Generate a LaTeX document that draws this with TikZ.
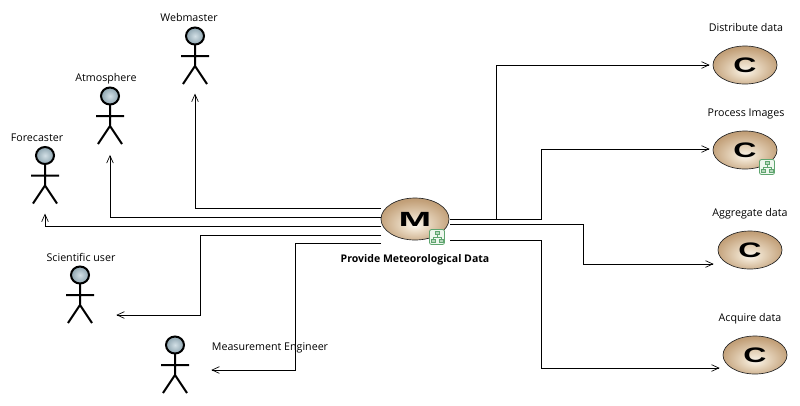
\documentclass[tikz,border=0pt]{standalone}
\usepackage{fontspec}
\setmainfont{Open Sans}
\newfontfamily\lettfont{Liberation Sans}
\usetikzlibrary{arrows.meta,shapes.geometric,calc}
\definecolor{headin}{HTML}{D3E0E6}
\definecolor{headout}{HTML}{8CA3AE}
\definecolor{treeline}{HTML}{5FA56F}
\definecolor{treefill}{HTML}{EEF7EE}
\definecolor{ovalA}{HTML}{FBF6EE}
\definecolor{ovalB}{HTML}{EBDCC6}
\definecolor{ovalC}{HTML}{C3A17A}
\definecolor{ovalD}{HTML}{9C754A}
\pgfdeclareradialshading{ovalshade}{\pgfpoint{0bp}{-8bp}}{
  color(0bp)=(ovalA);
  color(8bp)=(ovalB);
  color(26bp)=(ovalC);
  color(50bp)=(ovalD)}
\tikzset{
  x=0.75pt,y=-0.75pt,
  conn/.style={draw=black,line width=0.6pt,-{Straight Barb[length=5.5pt,width=5pt,line width=0.5pt]}},
  lab/.style={font=\fontsize{8pt}{9pt}\selectfont,text=black,inner sep=0pt},
  boldlab/.style={lab,font=\fontsize{7.9pt}{9pt}\selectfont\bfseries},
  classnode/.style={ellipse,draw=black!85,line width=0.5pt,inner sep=0pt,
    minimum width=48pt,minimum height=28.5pt,shading=ovalshade,
    font=\lettfont\bfseries},
  actorbox/.style={inner sep=0pt,minimum width=30pt,minimum height=48pt},
  actor/.pic={
    \draw[line width=1.5pt,inner color=headin,outer color=headout] (0,0) ellipse[x radius=9,y radius=8.5];
    \draw[line width=1.5pt] (0,9)--(0,30) (-14,20)--(14,20) (-12,48)--(0,30)--(12,48);
  },
  tree/.pic={
    \draw[treeline,fill=treefill,line width=0.6pt,rounded corners=1.5pt] (-7.5,-7.5) rectangle (7.5,7.5);
    \draw[treeline,fill=treefill!60!treeline,line width=0.35pt] (-2,-5.5) rectangle (2,-2.5) (-6,2) rectangle (-2,5.5) (2,2) rectangle (6,5.5);
    \draw[treeline,line width=0.4pt] (0,-2.5)--(0,0) (-4,2)--(-4,0)--(4,0)--(4,2);
  },
}
\begin{document}
\begin{tikzpicture}
\useasboundingbox (0,0) rectangle (800,405);
% actors
\pic at (195,36) {actor};
\pic at (110,96) {actor};
\pic at (45,155.5) {actor};
\pic at (80,275) {actor};
\pic at (175,345) {actor};
\node[actorbox] (web) at (195,60) {};
\node[actorbox] (atm) at (110,120) {};
\node[actorbox] (fore) at (45,180) {};
\node[actorbox] (sci) at (80,299) {};
\node[actorbox] (meas) at (175,369) {};
% ellipses
\node[classnode,minimum width=51pt,minimum height=31.5pt] (m) at (415,219) {\scalebox{2.1}[1.1]{\fontsize{14pt}{14pt}\selectfont M}};
\node[classnode] (c1) at (745,65) {\scalebox{1.6}[1.05]{\fontsize{15pt}{15pt}\selectfont C}};
\node[classnode] (c2) at (745,150) {\scalebox{1.6}[1.05]{\fontsize{15pt}{15pt}\selectfont C}};
\node[classnode] (c3) at (750,250) {\scalebox{1.6}[1.05]{\fontsize{15pt}{15pt}\selectfont C}};
\node[classnode] (c4) at (755,355) {\scalebox{1.6}[1.05]{\fontsize{15pt}{15pt}\selectfont C}};
\pic at (437,237) {tree};
\pic at (767,167) {tree};
% ports
\coordinate (mw1) at (381,208);
\coordinate (mw2) at (381,217);
\coordinate (mw3) at (381,226);
\coordinate (mw4) at (381,235);
\coordinate (mw5) at (381,243);
\coordinate (me1) at (450,219);
\coordinate (me2) at (450,224);
\coordinate (me3) at (450,240);
% connectors
\draw[conn] (mw1) -| ([yshift=-1pt]web.south);
\draw[conn] (mw2) -| ([yshift=-2pt]atm.south);
\draw[conn] (mw3) -| ([yshift=-1pt]fore.south);
\draw[conn] (mw4) -| (200,315) -- ([xshift=12pt,yshift=-12pt]sci.east);
\draw[conn] (mw5) -| (295,370) -- ([xshift=12pt,yshift=-.75pt]meas.east);
\draw[conn] (me1) -| (496,65) -- ([xshift=-2.25pt]c1.west);
\draw[conn] (me1) -| (541,149) -- ([xshift=-2.25pt,yshift=.75pt]c2.west);
\draw[conn] (me2) -| (583,264) -- ([xshift=-3pt,yshift=-10.5pt]c3.west);
\draw[conn] (me3) -| (541,368) -- ([xshift=-2.25pt,yshift=-9.75pt]c4.west);
% labels
\node[lab] (lweb) at (189,17) {Webmaster};
\node[lab] (latm) at (106,79) {Atmosphere};
\node[lab] (lfore) at (37,138) {Forecaster};
\node[lab] (lsci) at (81,257) {Scientific user};
\node[lab] (lmeas) at (270,348) {Measurement Engineer};
\node[boldlab] (lm) at (415,260) {Provide Meteorological Data};
\node[lab] (l1) at (746,27) {Distribute data};
\node[lab] (l2) at (746,114) {Process Images};
\node[lab] (l3) at (750,214) {Aggregate data};
\node[lab] (l4) at (750,319) {Acquire data};
\end{tikzpicture}
\end{document}
